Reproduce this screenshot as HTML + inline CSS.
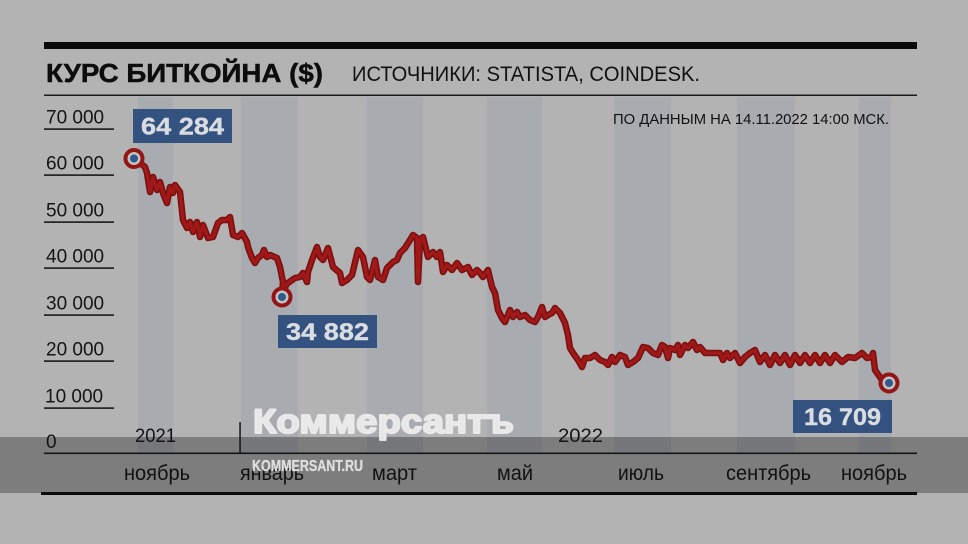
<!DOCTYPE html>
<html><head><meta charset="utf-8"><style>
html,body{margin:0;padding:0;background:#b3b3b3;}
svg{display:block;}
text{font-family:"Liberation Sans",Arial,sans-serif;}
</style></head><body>
<svg width="968" height="544" viewBox="0 0 968 544" xmlns="http://www.w3.org/2000/svg">
<rect x="0" y="0" width="968" height="544" fill="#b3b3b3"/>
<!-- month bands -->
<g fill="#a8abb0">
<rect x="138" y="97" width="35" height="356"/>
<rect x="241" y="97" width="57" height="356"/>
<rect x="367" y="97" width="56" height="356"/>
<rect x="487" y="97" width="55" height="356"/>
<rect x="614" y="97" width="57" height="356"/>
<rect x="737" y="97" width="58" height="356"/>
<rect x="859" y="97" width="32" height="356"/>
</g>
<!-- top lines -->
<rect x="44" y="42" width="873" height="7" fill="#0b0b0b"/>
<rect x="44" y="94.5" width="873" height="1.5" fill="#1a1a1a"/>
<!-- title -->
<text x="46" y="82" font-size="26" font-weight="bold" fill="#0d0d0d" stroke="#0d0d0d" stroke-width="0.5" textLength="277" lengthAdjust="spacingAndGlyphs">КУРС БИТКОЙНА ($)</text>
<text x="352" y="81" font-size="21" fill="#111" textLength="348" lengthAdjust="spacingAndGlyphs">ИСТОЧНИКИ: STATISTA, COINDESK.</text>
<text x="613" y="124" font-size="15" fill="#111" textLength="276" lengthAdjust="spacingAndGlyphs">ПО ДАННЫМ НА 14.11.2022 14:00 МСК.</text>
<!-- y axis -->
<g fill="#1a1a1a">
<rect x="44" y="128.3" width="70" height="1.6"/>
<rect x="44" y="174.3" width="70" height="1.6"/>
<rect x="44" y="221.3" width="70" height="1.6"/>
<rect x="44" y="267.3" width="70" height="1.6"/>
<rect x="44" y="314.3" width="70" height="1.6"/>
<rect x="44" y="360.3" width="70" height="1.6"/>
<rect x="44" y="407.3" width="70" height="1.6"/>
</g>
<g font-size="19" fill="#141414">
<text x="46" y="123.5">70 000</text>
<text x="46" y="169.5">60 000</text>
<text x="46" y="216.5">50 000</text>
<text x="46" y="262.5">40 000</text>
<text x="46" y="309.5">30 000</text>
<text x="46" y="355.5">20 000</text>
<text x="45" y="402.5">10 000</text>
</g>
<!-- series -->
<polyline fill="none" stroke="#7a0f0f" stroke-width="6.5" stroke-linejoin="round" stroke-linecap="round" points="134,158 145,167 147,173 150,192 153,177 157,190 160,182 163,193 167,203 170,187 173,193 175,185 180,192 183,220 187,228 190,222 193,232 197,222 200,237 203,225 208,238 213,237 218,223 222,220 227,220 230,217 233,235 238,237 242,233 247,242 248,247 252,258 255,263 258,258 262,255 264,250 267,257 270,255 277,258 280,267 283,282 282,296 286,285 288,283 295,278 300,277 303,273 307,282 308,272 312,260 317,247 320,257 323,260 328,248 333,267 340,273 342,283 347,280 352,275 358,250 363,257 367,277 370,280 375,260 378,277 383,280 387,268 393,262 397,260 400,253 405,248 410,240 413,235 417,238 418,282 420,240 423,237 428,257 433,252 437,257 440,252 443,272 447,265 452,270 457,263 462,270 468,267 472,275 477,270 480,273 483,277 488,270 492,287 495,293 498,310 502,318 505,322 510,310 513,317 517,312 520,317 525,315 530,320 535,322 538,317 542,307 545,317 548,315 552,313 555,308 560,313 565,323 568,335 570,348 573,353 578,360 582,367 585,358 590,358 595,355 600,360 605,362 608,365 612,357 615,362 620,355 625,357 628,365 633,362 638,358 643,347 648,348 653,353 658,355 662,345 665,347 668,358 670,348 675,350 678,345 680,355 685,345 688,348 693,342 697,350 700,347 705,353 710,353 720,353 723,360 727,353 730,358 735,353 740,363 745,357 750,353 755,350 760,362 765,355 770,365 775,355 780,363 785,355 790,365 795,355 800,363 805,355 810,363 815,355 820,363 825,355 830,363 835,355 842,362 848,357 855,358 862,353 867,358 872,357 873,353 875,370 882,380 889,383"/>
<polyline fill="none" stroke="#a01818" stroke-width="3.5" stroke-linejoin="round" stroke-linecap="round" points="134,158 145,167 147,173 150,192 153,177 157,190 160,182 163,193 167,203 170,187 173,193 175,185 180,192 183,220 187,228 190,222 193,232 197,222 200,237 203,225 208,238 213,237 218,223 222,220 227,220 230,217 233,235 238,237 242,233 247,242 248,247 252,258 255,263 258,258 262,255 264,250 267,257 270,255 277,258 280,267 283,282 282,296 286,285 288,283 295,278 300,277 303,273 307,282 308,272 312,260 317,247 320,257 323,260 328,248 333,267 340,273 342,283 347,280 352,275 358,250 363,257 367,277 370,280 375,260 378,277 383,280 387,268 393,262 397,260 400,253 405,248 410,240 413,235 417,238 418,282 420,240 423,237 428,257 433,252 437,257 440,252 443,272 447,265 452,270 457,263 462,270 468,267 472,275 477,270 480,273 483,277 488,270 492,287 495,293 498,310 502,318 505,322 510,310 513,317 517,312 520,317 525,315 530,320 535,322 538,317 542,307 545,317 548,315 552,313 555,308 560,313 565,323 568,335 570,348 573,353 578,360 582,367 585,358 590,358 595,355 600,360 605,362 608,365 612,357 615,362 620,355 625,357 628,365 633,362 638,358 643,347 648,348 653,353 658,355 662,345 665,347 668,358 670,348 675,350 678,345 680,355 685,345 688,348 693,342 697,350 700,347 705,353 710,353 720,353 723,360 727,353 730,358 735,353 740,363 745,357 750,353 755,350 760,362 765,355 770,365 775,355 780,363 785,355 790,365 795,355 800,363 805,355 810,363 815,355 820,363 825,355 830,363 835,355 842,362 848,357 855,358 862,353 867,358 872,357 873,353 875,370 882,380 889,383"/>
<!-- markers -->
<g>
<circle cx="134" cy="158.5" r="8.5" fill="#c4c4c4" stroke="#931515" stroke-width="4"/>
<circle cx="134" cy="158.5" r="4" fill="#2f5a8c"/>
<circle cx="282" cy="297" r="8.5" fill="#c4c4c4" stroke="#931515" stroke-width="4"/>
<circle cx="282" cy="297" r="4" fill="#2f5a8c"/>
<circle cx="889" cy="383" r="8.5" fill="#c4c4c4" stroke="#931515" stroke-width="4"/>
<circle cx="889" cy="383" r="4" fill="#2f5a8c"/>
</g>
<!-- value boxes -->
<rect x="133" y="109" width="99" height="34" fill="#33527f"/>
<text x="182.5" y="134.5" font-size="24" font-weight="bold" fill="#d9dce1" stroke="#d9dce1" stroke-width="0.4" text-anchor="middle" textLength="83" lengthAdjust="spacingAndGlyphs">64 284</text>
<rect x="278" y="315" width="99" height="33" fill="#33527f"/>
<text x="327.5" y="340" font-size="24" font-weight="bold" fill="#d9dce1" stroke="#d9dce1" stroke-width="0.4" text-anchor="middle" textLength="83" lengthAdjust="spacingAndGlyphs">34 882</text>
<rect x="793" y="400" width="99" height="33" fill="#33527f"/>
<text x="842.5" y="425" font-size="24" font-weight="bold" fill="#d9dce1" stroke="#d9dce1" stroke-width="0.4" text-anchor="middle" textLength="77" lengthAdjust="spacingAndGlyphs">16 709</text>
<!-- overlay band -->
<rect x="0" y="437" width="968" height="56" fill="#000" fill-opacity="0.30"/>
<!-- axes -->
<rect x="44" y="452.5" width="873" height="1.6" fill="#141414"/>
<rect x="239.3" y="422" width="1.5" height="31" fill="#141414"/>
<rect x="41" y="492" width="876" height="3" fill="#0b0b0b"/>
<text x="46" y="448" font-size="19" fill="#141414">0</text>
<text x="135" y="442" font-size="19" fill="#141414" textLength="41" lengthAdjust="spacingAndGlyphs">2021</text>
<text x="558" y="442" font-size="19" fill="#141414" textLength="45" lengthAdjust="spacingAndGlyphs">2022</text>
<g font-size="21" fill="#111">
<text x="124" y="480" textLength="66" lengthAdjust="spacingAndGlyphs">ноябрь</text>
<text x="240" y="480" textLength="64" lengthAdjust="spacingAndGlyphs">январь</text>
<text x="372" y="480" textLength="45" lengthAdjust="spacingAndGlyphs">март</text>
<text x="497" y="480" textLength="36" lengthAdjust="spacingAndGlyphs">май</text>
<text x="618" y="480" textLength="46" lengthAdjust="spacingAndGlyphs">июль</text>
<text x="726" y="480" textLength="85" lengthAdjust="spacingAndGlyphs">сентябрь</text>
<text x="841" y="480" textLength="66" lengthAdjust="spacingAndGlyphs">ноябрь</text>
</g>
<!-- watermark -->
<text x="253" y="433" font-size="34" font-weight="bold" fill="#ececec" fill-opacity="0.93" stroke="#ececec" stroke-opacity="0.93" stroke-width="2" stroke-linejoin="round" textLength="261" lengthAdjust="spacingAndGlyphs">Коммерсантъ</text>
<text x="252" y="471" font-size="15.5" font-weight="bold" fill="#e6e6e6" fill-opacity="0.92" stroke="#e6e6e6" stroke-opacity="0.9" stroke-width="0.3" textLength="111" lengthAdjust="spacingAndGlyphs">KOMMERSANT.RU</text>
</svg>
</body></html>
